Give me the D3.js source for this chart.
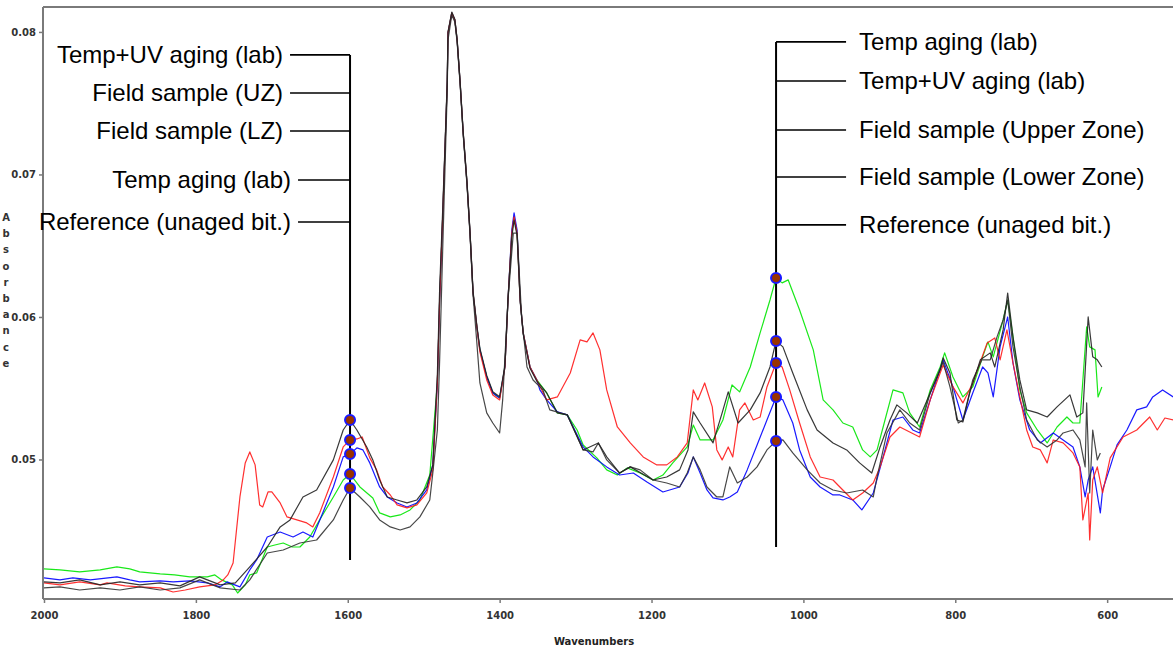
<!DOCTYPE html>
<html><head><meta charset="utf-8">
<script src="https://cdn.jsdelivr.net/npm/d3@7"></script>
<style>
html,body{margin:0;padding:0;background:#fff;}
svg{display:block;}
</style></head>
<body>
<svg id="chart" width="1173" height="648"></svg>
<script>
// ---------------- DATA ----------------
const wavenumberTicks = [2000, 1800, 1600, 1400, 1200, 1000, 800, 600];
const absorbanceTicks = [0.05, 0.06, 0.07, 0.08];
const xAxisTitle = "Wavenumbers";
const yAxisTitle = "Absorbance";

// Temp aging (lab) - green
const greenTempAging = [
[2000,0.04232],[1979,0.04225],[1953,0.04211],[1926,0.04225],[1904,0.04246],[1887,0.04232],[1874,0.04211],[1847,0.04197],[1828,0.04190],[1808,0.04176],[1785,0.04176],[1775,0.04190],[1766,0.04155],[1752,0.04120],[1745,0.04063],[1735,0.04120],[1729,0.04190],[1720,0.04204],[1706,0.04386],[1696,0.04400],[1685,0.04414],[1673,0.04386],[1663,0.04386],[1650,0.04456],[1637,0.04576],[1619,0.04737],[1606,0.04856],[1597,0.04898],[1584,0.04807],[1567,0.04730],[1558,0.04625],[1544,0.04597],[1531,0.04611],[1518,0.04646],[1505,0.04716],[1492,0.04891],
[1482,0.05537],[1479,0.06119],[1475,0.06702],[1472,0.07172],[1469,0.07642],[1468,0.07993],[1463,0.08133],[1459,0.08084],[1456,0.07944],[1452,0.07642],[1448,0.07291],[1443,0.06940],[1439,0.06589],[1435,0.06168],[1430,0.05930],[1426,0.05769],[1417,0.05579],[1409,0.05467],[1400,0.05432],[1393,0.05649],[1389,0.06119],[1384,0.06589],[1381,0.06702],[1377,0.06589],[1373,0.06119],[1369,0.05888],[1360,0.05649],[1351,0.05558],
[1338,0.05467],[1324,0.05327],[1311,0.05313],[1298,0.05207],[1290,0.05102],[1272,0.05011],[1259,0.04927],[1245,0.04891],[1232,0.04941],[1215,0.04905],[1198,0.04856],[1185,0.04891],[1172,0.04976],[1153,0.05088],[1145,0.05242],[1136,0.05137],[1119,0.05137],[1106,0.05277],[1094,0.05523],[1084,0.05474],[1070,0.05649],[1057,0.05888],[1044,0.06119],[1036,0.06274],[1028,0.06239],[1020,0.06260],[1005,0.06049],[987,0.05769],[974,0.05418],[961,0.05348],[948,0.05256],[935,0.05228],[922,0.05067],[912,0.05018],[903,0.05067],[895,0.05228],[882,0.05488],[869,0.05467],[860,0.05327],[847,0.05228],[833,0.05488],[820,0.05649],[814,0.05748],[803,0.05579],[790,0.05439],[777,0.05509],[764,0.05720],[757,0.05825],[750,0.05720],[737,0.05979],[731,0.06119],[724,0.05860],[715,0.05488],[706,0.05327],[692,0.05207],[679,0.05116],[666,0.05228],[653,0.05298],[645,0.05256],[636,0.05256],[627,0.05930],[623,0.05790],[616,0.05769],[612,0.05439],[607,0.05509]
];

// Field sample (Upper Zone) - red
const redFieldUpper = [
[2000,0.04134],[1979,0.04120],[1953,0.04141],[1926,0.04120],[1917,0.04134],[1893,0.04113],[1874,0.04106],[1847,0.04099],[1830,0.04070],[1814,0.04084],[1795,0.04106],[1775,0.04120],[1764,0.04155],[1758,0.04190],[1751,0.04274],[1742,0.04737],[1735,0.04976],[1729,0.05053],[1722,0.04962],[1716,0.04681],[1712,0.04667],[1705,0.04772],[1700,0.04772],[1689,0.04695],[1680,0.04597],[1667,0.04576],[1654,0.04555],[1646,0.04527],[1637,0.04625],[1619,0.04877],[1606,0.05088],[1597,0.05137],[1588,0.05144],[1581,0.05158],[1571,0.05011],[1562,0.04927],[1554,0.04807],[1544,0.04751],[1535,0.04681],[1522,0.04660],[1509,0.04681],[1496,0.04765],[1488,0.04927],
[1482,0.05537],[1479,0.06119],[1475,0.06702],[1472,0.07172],[1469,0.07642],[1468,0.07993],[1463,0.08133],[1459,0.08084],[1456,0.07944],[1452,0.07642],[1448,0.07291],[1443,0.06940],[1439,0.06589],[1435,0.06168],[1430,0.05930],[1426,0.05755],[1417,0.05558],[1409,0.05453],[1400,0.05418],[1393,0.05649],[1389,0.06119],[1384,0.06589],[1381,0.06702],[1377,0.06589],[1373,0.06119],[1369,0.05888],[1360,0.05649],[1351,0.05558],
[1338,0.05418],[1324,0.05439],[1307,0.05607],[1294,0.05839],[1285,0.05825],[1277,0.05888],[1268,0.05769],[1259,0.05488],[1245,0.05228],[1228,0.05116],[1211,0.05018],[1193,0.04962],[1180,0.04962],[1166,0.05018],[1153,0.05116],[1145,0.05488],[1139,0.05418],[1130,0.05537],[1120,0.05369],[1114,0.05067],[1107,0.04997],[1099,0.05088],[1093,0.05018],[1084,0.05348],[1077,0.05397],[1066,0.05277],[1057,0.05298],[1048,0.05509],[1036,0.05677],[1028,0.05649],[1018,0.05488],[1005,0.05256],[991,0.05018],[978,0.04877],[961,0.04856],[952,0.04807],[935,0.04716],[922,0.04765],[908,0.04835],[899,0.04948],[886,0.05158],[873,0.05228],[860,0.05193],[847,0.05158],[833,0.05418],[816,0.05663],[803,0.05509],[790,0.05397],[777,0.05537],[758,0.05818],[748,0.05853],[741,0.05699],[732,0.05909],[724,0.05677],[715,0.05439],[706,0.05207],[698,0.05088],[688,0.05067],[679,0.04976],[671,0.05137],[658,0.05116],[645,0.05046],[636,0.04948],[632,0.04576],[625,0.04765],[623,0.04435],[619,0.04856],[613,0.04948],[606,0.04765],[596,0.05011],[579,0.05158],[561,0.05207],[544,0.05298],[534,0.05207],[524,0.05291],[513,0.05277]
];

// Field sample (Lower Zone) - blue
const blueFieldLower = [
[2000,0.04169],[1979,0.04155],[1962,0.04169],[1939,0.04155],[1904,0.04176],[1887,0.04155],[1874,0.04141],[1847,0.04148],[1830,0.04141],[1808,0.04148],[1785,0.04134],[1768,0.04106],[1759,0.04141],[1742,0.04106],[1729,0.04225],[1720,0.04295],[1706,0.04456],[1689,0.04491],[1672,0.04456],[1659,0.04491],[1646,0.04456],[1633,0.04625],[1619,0.04807],[1606,0.05018],[1597,0.05039],[1588,0.05081],[1580,0.05067],[1571,0.04976],[1558,0.04807],[1548,0.04737],[1535,0.04695],[1522,0.04667],[1509,0.04695],[1496,0.04786],[1488,0.04962],
[1482,0.05537],[1479,0.06119],[1475,0.06702],[1472,0.07172],[1469,0.07642],[1468,0.07993],[1463,0.08133],[1459,0.08084],[1456,0.07944],[1452,0.07642],[1448,0.07291],[1443,0.06940],[1439,0.06589],[1435,0.06168],[1430,0.05930],[1426,0.05769],[1417,0.05579],[1409,0.05467],[1400,0.05432],[1393,0.05649],[1389,0.06119],[1384,0.06610],[1381,0.06730],[1377,0.06610],[1373,0.06119],[1369,0.05888],[1360,0.05649],[1351,0.05558],
[1347,0.05488],[1338,0.05418],[1324,0.05334],[1311,0.05313],[1290,0.05088],[1277,0.05018],[1259,0.04948],[1242,0.04891],[1224,0.04905],[1206,0.04842],[1185,0.04772],[1163,0.04807],[1152,0.04905],[1145,0.05018],[1136,0.04905],[1127,0.04786],[1119,0.04730],[1106,0.04716],[1097,0.04737],[1087,0.04772],[1074,0.04927],[1061,0.05102],[1048,0.05277],[1036,0.05439],[1027,0.05418],[1014,0.05256],[1005,0.05067],[991,0.04877],[978,0.04807],[961,0.04751],[952,0.04751],[935,0.04716],[923,0.04646],[908,0.04765],[895,0.05018],[882,0.05277],[869,0.05298],[856,0.05207],[847,0.05186],[833,0.05418],[816,0.05699],[803,0.05509],[790,0.05277],[777,0.05467],[764,0.05649],[757,0.05607],[750,0.05439],[741,0.05790],[731,0.06000],[724,0.05677],[715,0.05418],[702,0.05207],[688,0.05116],[671,0.05186],[658,0.05137],[645,0.05088],[636,0.04948],[629,0.04737],[625,0.04856],[619,0.04948],[609,0.04625],[606,0.04786],[596,0.04948],[587,0.05102],[574,0.05207],[561,0.05348],[548,0.05369],[540,0.05439],[527,0.05488],[513,0.05439]
];

// Temp+UV aging (lab) - black
const blackTempUV = [
[2000,0.04141],[1979,0.04134],[1953,0.04155],[1926,0.04120],[1900,0.04141],[1874,0.04120],[1847,0.04134],[1821,0.04113],[1795,0.04176],[1768,0.04120],[1748,0.04134],[1729,0.04246],[1706,0.04386],[1689,0.04527],[1676,0.04576],[1659,0.04737],[1641,0.04786],[1619,0.04997],[1606,0.05207],[1597,0.05277],[1588,0.05207],[1575,0.05088],[1567,0.04997],[1558,0.04856],[1548,0.04737],[1535,0.04716],[1522,0.04695],[1509,0.04716],[1496,0.04807],[1488,0.04962],
[1482,0.05600],[1479,0.06200],[1475,0.06750],[1472,0.07200],[1469,0.07660],[1468,0.08000],[1463,0.08140],[1459,0.08090],[1456,0.07950],[1452,0.07650],[1448,0.07300],[1443,0.06950],[1439,0.06600],[1435,0.06180],[1430,0.05940],[1426,0.05780],[1417,0.05590],[1409,0.05475],[1400,0.05440],[1393,0.05660],[1389,0.06130],[1384,0.06560],[1381,0.06680],[1377,0.06570],[1373,0.06110],[1369,0.05880],[1360,0.05640],[1351,0.05550],
[1338,0.05467],[1324,0.05327],[1311,0.05313],[1290,0.05067],[1270,0.05116],[1259,0.05018],[1242,0.04905],[1228,0.04948],[1198,0.04856],[1180,0.04877],[1163,0.04927],[1152,0.05067],[1145,0.05334],[1136,0.05256],[1119,0.05116],[1107,0.05327],[1099,0.05474],[1086,0.05256],[1070,0.05348],[1057,0.05467],[1044,0.05649],[1036,0.05832],[1027,0.05790],[1014,0.05607],[995,0.05348],[982,0.05207],[961,0.05116],[943,0.05067],[926,0.04976],[910,0.04905],[899,0.05088],[886,0.05277],[877,0.05383],[864,0.05327],[850,0.05256],[837,0.05418],[820,0.05628],[816,0.05713],[807,0.05607],[798,0.05277],[790,0.05263],[781,0.05467],[767,0.05699],[754,0.05748],[748,0.05649],[737,0.05909],[731,0.06168],[724,0.05860],[715,0.05558],[706,0.05348],[692,0.05327],[679,0.05298],[666,0.05369],[649,0.05453],[640,0.05298],[632,0.05327],[625,0.06000],[619,0.05720],[613,0.05699],[607,0.05649]
];

// Reference (unaged bitumen) - dark grey
const blackReference = [
[2000,0.04099],[1979,0.04106],[1953,0.04084],[1926,0.04099],[1900,0.04084],[1874,0.04106],[1847,0.04084],[1821,0.04099],[1795,0.04155],[1768,0.04099],[1742,0.04084],[1729,0.04155],[1706,0.04344],[1685,0.04365],[1663,0.04414],[1641,0.04435],[1619,0.04576],[1606,0.04716],[1597,0.04800],[1584,0.04737],[1571,0.04667],[1558,0.04576],[1544,0.04527],[1531,0.04505],[1518,0.04527],[1505,0.04597],[1492,0.04716],[1488,0.04905],
[1482,0.05207],[1479,0.05699],[1475,0.06470],[1472,0.07032],[1469,0.07593],[1468,0.07944],[1463,0.08119],[1459,0.08070],[1456,0.07930],[1452,0.07628],[1448,0.07277],[1443,0.06926],[1439,0.06575],[1435,0.06154],[1430,0.05818],[1426,0.05537],[1417,0.05327],[1409,0.05256],[1400,0.05186],[1396,0.05418],[1389,0.06119],[1382,0.06589],[1377,0.06589],[1371,0.06000],[1364,0.05649],[1356,0.05558],[1343,0.05488],[1334,0.05348],
[1311,0.05313],[1290,0.05067],[1277,0.05053],[1270,0.05116],[1259,0.04997],[1242,0.04905],[1228,0.04948],[1215,0.04927],[1198,0.04856],[1180,0.04835],[1163,0.04807],[1153,0.04905],[1145,0.05018],[1136,0.04927],[1127,0.04807],[1114,0.04737],[1106,0.04737],[1097,0.04948],[1087,0.04835],[1074,0.04877],[1061,0.04948],[1048,0.05067],[1036,0.05130],[1027,0.05137],[1014,0.05046],[995,0.04927],[978,0.04835],[961,0.04786],[943,0.04765],[922,0.04786],[908,0.04737],[903,0.04877],[890,0.05186],[873,0.05348],[860,0.05256],[847,0.05207],[833,0.05467],[816,0.05684],[807,0.05509],[796,0.05256],[790,0.05277],[777,0.05558],[765,0.05699],[754,0.05699],[745,0.05860],[737,0.05979],[731,0.06119],[724,0.05790],[715,0.05509],[706,0.05277],[692,0.05137],[679,0.05088],[666,0.05137],[658,0.05186],[645,0.05207],[636,0.05137],[629,0.04948],[627,0.05397],[623,0.04765],[619,0.05207],[613,0.04997],[609,0.05046]
];

// Annotation groups (labels, the wavenumber of the marker line, label heights and marker values)
const leftLabels = ["Temp+UV aging (lab)", "Field sample (UZ)", "Field sample (LZ)", "Temp aging (lab)", "Reference (unaged bit.)"];
const leftLabelAbs = [0.07839, 0.07572, 0.07305, 0.06961, 0.06666];
const leftMarkerWavenumber = 1597;
const leftMarkerAbs = [0.05277, 0.05137, 0.05039, 0.04898, 0.04800];
const leftLineAbsRange = [0.07839, 0.04295];

const rightLabels = ["Temp aging (lab)", "Temp+UV aging (lab)", "Field sample (Upper Zone)", "Field sample (Lower Zone)", "Reference (unaged bit.)"];
const rightLabelAbs = [0.07930, 0.07656, 0.07312, 0.06982, 0.06646];
const rightMarkerWavenumber = 1036;
const rightMarkerAbs = [0.06274, 0.05832, 0.05677, 0.05439, 0.05130];
const rightLineAbsRange = [0.07930, 0.04386];

// ---------------- DRAW ----------------
const svg = d3.select("#chart");
const W = 1173, H = 648;
const plot = {left: 43, top: 7, bottom: 599};

const x = d3.scaleLinear().domain([2000, 500]).range([44, 44 + 1500 * 0.7594]);
const y = d3.scaleLinear().domain([0.04021, 0.08175]).range([599, 7]);

svg.append("rect").attr("width", W).attr("height", H).attr("fill", "#fff");

const defs = svg.append("defs");
defs.append("clipPath").attr("id", "clip").append("rect")
  .attr("x", plot.left).attr("y", plot.top).attr("width", W - plot.left).attr("height", plot.bottom - plot.top);

// series
const series = [
  {data: greenTempAging, color: "#00e600"},
  {data: blueFieldLower, color: "#0000ff"},
  {data: redFieldUpper, color: "#ff1a1a"},
  {data: blackReference, color: "#333333"},
  {data: blackTempUV, color: "#222222"}
];
const line = d3.line().x(d => x(d[0])).y(d => y(d[1])).curve(d3.curveLinear);
const gLines = svg.append("g").attr("clip-path", "url(#clip)");
series.forEach(s => {
  gLines.append("path").datum(s.data).attr("d", line)
    .attr("fill", "none").attr("stroke", s.color).attr("stroke-width", 1.2)
    .attr("stroke-linejoin", "round").attr("stroke-opacity", 0.9);
});

// frame / axes
const axisColor = "#7a7a7a";
svg.append("line").attr("x1", plot.left).attr("x2", W).attr("y1", plot.top).attr("y2", plot.top)
  .attr("stroke", axisColor).attr("stroke-width", 2);

const xAxis = d3.axisBottom(x).tickValues(wavenumberTicks).tickSize(4).tickFormat(d3.format("d"));
const gx = svg.append("g").attr("transform", `translate(0,${plot.bottom})`).call(xAxis);
gx.select(".domain").remove();
gx.selectAll(".tick line").attr("stroke", axisColor).attr("stroke-width", 1.5);
gx.selectAll(".tick text").attr("dy", "1.25em")
  .attr("font-family", "DejaVu Sans, sans-serif").attr("font-weight", "bold").attr("font-size", 10).attr("fill", "#333");
svg.append("line").attr("x1", plot.left).attr("x2", W).attr("y1", plot.bottom).attr("y2", plot.bottom)
  .attr("stroke", axisColor).attr("stroke-width", 2);

const yAxis = d3.axisLeft(y).tickValues(absorbanceTicks).tickSize(4).tickFormat(d3.format(".2f"));
const gy = svg.append("g").attr("transform", `translate(${plot.left},0)`).call(yAxis);
gy.select(".domain").remove();
gy.selectAll(".tick line").attr("stroke", axisColor).attr("stroke-width", 1.5);
gy.selectAll(".tick text").attr("x", -7)
  .attr("font-family", "DejaVu Sans, sans-serif").attr("font-weight", "bold").attr("font-size", 10).attr("fill", "#333");
svg.append("line").attr("x1", plot.left).attr("x2", plot.left).attr("y1", plot.top).attr("y2", plot.bottom)
  .attr("stroke", axisColor).attr("stroke-width", 2);

// axis titles
svg.append("text").attr("x", 594).attr("y", 645).attr("text-anchor", "middle")
  .attr("font-family", "DejaVu Sans, sans-serif").attr("font-weight", "bold").attr("font-size", 10).attr("fill", "#222")
  .text(xAxisTitle);
const yt = svg.append("text").attr("font-family", "DejaVu Sans, sans-serif").attr("font-weight", "bold")
  .attr("font-size", 10).attr("fill", "#333").attr("text-anchor", "middle");
yAxisTitle.split("").forEach((ch, i) => {
  yt.append("tspan").attr("x", 6).attr("y", 221 + i * 16.2).text(ch);
});

// annotations
const annFont = "Liberation Sans, Arial, sans-serif";
const annSize = 24;
function annotate(labels, labelAbs, markerWn, markerAbs, lineRange, side) {
  const xm = x(markerWn);
  const g = svg.append("g");
  g.append("line").attr("x1", xm).attr("x2", xm).attr("y1", y(lineRange[0])).attr("y2", y(lineRange[1]))
    .attr("stroke", "#000").attr("stroke-width", 2);
  labels.forEach((lab, i) => {
    const yy = y(labelAbs[i]);
    const t = g.append("text").attr("y", yy).attr("dy", "0.35em")
      .attr("font-family", annFont).attr("font-size", annSize).attr("fill", "#000").text(lab);
    if (side === "left") {
      const lineStart = i < 3 ? xm - 60 : xm - 52;
      t.attr("x", lineStart - 7).attr("text-anchor", "end");
      g.append("line").attr("x1", lineStart).attr("x2", xm).attr("y1", yy).attr("y2", yy)
        .attr("stroke", "#000").attr("stroke-width", 1.6);
    } else {
      t.attr("x", xm + 83).attr("text-anchor", "start");
      g.append("line").attr("x1", xm).attr("x2", xm + 70).attr("y1", yy).attr("y2", yy)
        .attr("stroke", "#000").attr("stroke-width", 1.6);
    }
  });
  markerAbs.forEach(v => {
    g.append("circle").attr("cx", xm).attr("cy", y(v)).attr("r", 5)
      .attr("fill", "#993300").attr("stroke", "#1a1aff").attr("stroke-width", 2);
  });
}
annotate(leftLabels, leftLabelAbs, leftMarkerWavenumber, leftMarkerAbs, leftLineAbsRange, "left");
annotate(rightLabels, rightLabelAbs, rightMarkerWavenumber, rightMarkerAbs, rightLineAbsRange, "right");
</script>
</body></html>
